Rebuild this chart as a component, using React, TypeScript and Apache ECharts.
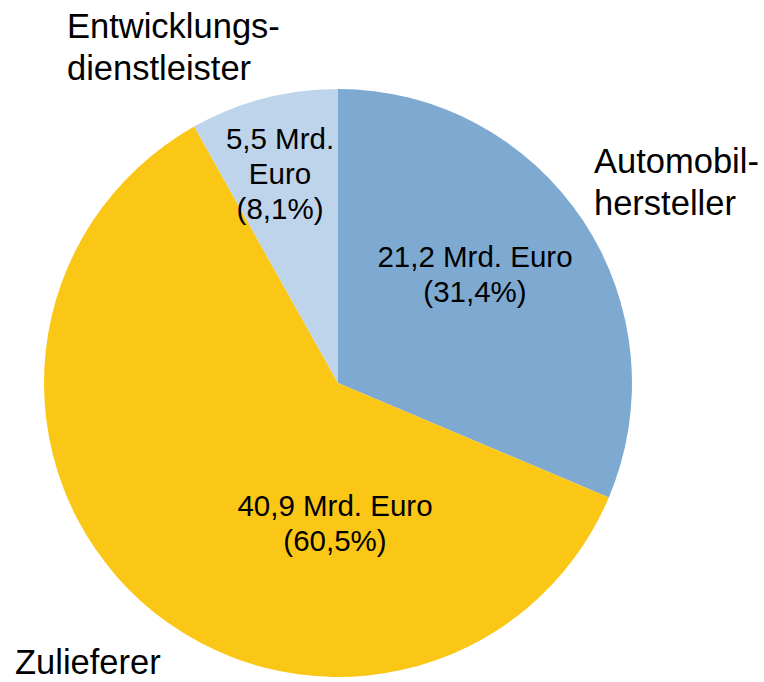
import React, { useEffect, useRef } from "react";
import * as echarts from "echarts";

const categories = ["Automobilhersteller", "Zulieferer", "Entwicklungsdienstleister"];
const categoryLabels = ["Automobil-\nhersteller", "Zulieferer", "Entwicklungs-\ndienstleister"];
const values = [21.2, 40.9, 5.5];
const colors = ["#7eaad2", "#fbc716", "#bdd4ea"];

const innerPos: [number, number][] = [
  [475, 274],
  [335, 523],
  [280, 173],
];
const outerPos: [number, number][] = [
  [594, 182],
  [15, 662],
  [67, 47],
];

const FONT = "'Liberation Sans', Arial, Helvetica, sans-serif";

function fmt(v: number) {
  return v.toFixed(1).replace(".", ",");
}

export default function App() {
  const ref = useRef<HTMLDivElement>(null);
  useEffect(() => {
    if (!ref.current) return;
    const chart = echarts.init(ref.current, undefined, { renderer: "svg" });
    const data = categories.map((name, i) => ({
      name,
      value: values[i],
      itemStyle: { color: colors[i] },
    }));
    chart.setOption({
      animation: false,
      backgroundColor: "#ffffff",
      series: [
        {
          type: "pie",
          center: [338, 383],
          radius: [0, 294],
          startAngle: 90,
          clockwise: true,
          data,
          itemStyle: { borderWidth: 0 },
          emphasis: { disabled: true },
          label: {
            show: true,
            position: "inside",
            color: "#000",
            fontFamily: FONT,
            fontSize: 29.5,
            lineHeight: 35,
            align: "center",
            overflow: "none",
            formatter: (p: any) => {
              const v = fmt(p.value);
              const pct = fmt(p.percent);
              return p.percent < 10
                ? `${v} Mrd.\nEuro\n(${pct}%)`
                : `${v} Mrd. Euro\n(${pct}%)`;
            },
          },
          labelLine: { show: false },
          labelLayout: (params: any) => ({
            x: innerPos[params.dataIndex][0],
            y: innerPos[params.dataIndex][1],
            align: "center",
            verticalAlign: "middle",
          }),
        },
        {
          type: "pie",
          center: [338, 383],
          radius: [0, 294],
          startAngle: 90,
          clockwise: true,
          silent: true,
          data: categories.map((name, i) => ({
            name,
            value: values[i],
            itemStyle: { color: "rgba(0,0,0,0)" },
          })),
          label: {
            show: true,
            position: "outside",
            color: "#000",
            fontFamily: FONT,
            fontSize: 34.5,
            lineHeight: 42,
            align: "left",
            overflow: "none",
            width: 300,
            formatter: (p: any) => categoryLabels[p.dataIndex],
          },
          labelLine: { show: false },
          labelLayout: (params: any) => ({
            x: outerPos[params.dataIndex][0],
            y: outerPos[params.dataIndex][1],
            align: "left",
            verticalAlign: "middle",
          }),
        },
      ],
    });
    return () => chart.dispose();
  }, []);
  return (
    <div
      ref={ref}
      style={{ position: "fixed", left: 0, top: 0, width: 764, height: 682 }}
    />
  );
}
